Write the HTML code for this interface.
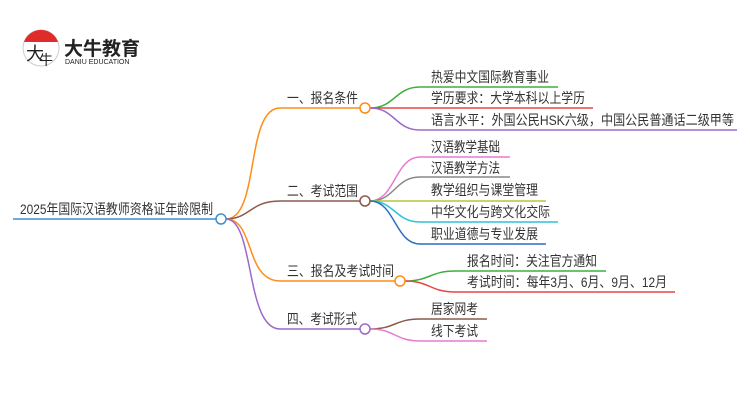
<!DOCTYPE html>
<html><head><meta charset="utf-8"><style>
body{margin:0;background:#fff;width:750px;height:410px;overflow:hidden}
svg text{font-family:"Liberation Sans","Noto Sans CJK SC",sans-serif;font-size:14px;fill:#333}
</style></head><body>
<svg width="750" height="410" viewBox="0 0 750 410">
<!-- logo -->
<circle cx="41" cy="48" r="18" fill="#fff" stroke="#ccc" stroke-width="1"/>
<path d="M24,42 A18,18 0 0 1 58,42 Z" fill="#e02b2b"/>
<text x="26" y="60" style="font-size:18px;fill:#222">大</text>
<text x="39" y="65" style="font-size:14px;fill:#222">牛</text>
<text x="64" y="55" style="font-size:19px;font-weight:bold;fill:#222">大牛教育</text>
<text x="65" y="64" style="font-size:7px;fill:#222">DANIU EDUCATION</text>
<g fill="none" stroke-width="1.5">
<line x1="13" y1="219" x2="216" y2="219" stroke="#3d8fd1"/>
<path d="M226,219 C260,219 245,108 280,108 L360,108" stroke="#ff8c1a"/>
<path d="M226,219 C250,219 250,201 280,201 L360,201" stroke="#8b5a4a"/>
<path d="M226,219 C255,219 245,281 280,281 L395,281" stroke="#ff8c1a"/>
<path d="M226,219 C255,219 245,329 280,329 L360,329" stroke="#9b6ac9"/>
<path d="M370,108 C395,108 395,87 420,87 L558,87" stroke="#3bb03b"/>
<path d="M370,108 L593,108" stroke="#e84545"/>
<path d="M370,108 C395,108 395,130 420,130 L737,130" stroke="#9b6ac9"/>
<path d="M370,201 C395,201 395,157 420,157 L510,157" stroke="#e87ad0"/>
<path d="M370,201 C395,201 395,177 420,177 L510,177" stroke="#888"/>
<path d="M370,201 L546,201" stroke="#b8c43a"/>
<path d="M370,201 C395,201 395,222 420,222 L558,222" stroke="#2ec4d8"/>
<path d="M370,201 C395,201 395,244 420,244 L546,244" stroke="#2b6fc0"/>
<path d="M405,281 C430,281 430,271 455,271 L606,271" stroke="#3bb03b"/>
<path d="M405,281 C430,281 430,292 455,292 L675,292" stroke="#e84545"/>
<path d="M370,329 C395,329 395,319 420,319 L487,319" stroke="#8b5a4a"/>
<path d="M370,329 C395,329 395,341 420,341 L487,341" stroke="#e87ad0"/>
</g>
<g fill="#fff" stroke-width="1.5">
<circle cx="221" cy="219" r="5" stroke="#3d8fd1"/>
<circle cx="365" cy="108" r="5" stroke="#ff8c1a"/>
<circle cx="365" cy="201" r="5" stroke="#8b5a4a"/>
<circle cx="400" cy="281" r="5" stroke="#ff8c1a"/>
<circle cx="365" cy="329" r="5" stroke="#9b6ac9"/>
</g>
<g lengthAdjust="spacingAndGlyphs">
<text x="20" y="214" textLength="193" lengthAdjust="spacingAndGlyphs">2025年国际汉语教师资格证年龄限制</text>
<text x="287" y="103" textLength="71" lengthAdjust="spacingAndGlyphs">一、报名条件</text>
<text x="287" y="196" textLength="71" lengthAdjust="spacingAndGlyphs">二、考试范围</text>
<text x="287" y="276" textLength="107" lengthAdjust="spacingAndGlyphs">三、报名及考试时间</text>
<text x="287" y="324" textLength="70" lengthAdjust="spacingAndGlyphs">四、考试形式</text>
<text x="431" y="82" textLength="118" lengthAdjust="spacingAndGlyphs">热爱中文国际教育事业</text>
<text x="431" y="103" textLength="154" lengthAdjust="spacingAndGlyphs">学历要求：大学本科以上学历</text>
<text x="431" y="125" textLength="303" lengthAdjust="spacingAndGlyphs">语言水平：外国公民HSK六级，中国公民普通话二级甲等</text>
<text x="431" y="152" textLength="69" lengthAdjust="spacingAndGlyphs">汉语教学基础</text>
<text x="431" y="173" textLength="69" lengthAdjust="spacingAndGlyphs">汉语教学方法</text>
<text x="431" y="195" textLength="107" lengthAdjust="spacingAndGlyphs">教学组织与课堂管理</text>
<text x="431" y="217" textLength="119" lengthAdjust="spacingAndGlyphs">中华文化与跨文化交际</text>
<text x="431" y="239" textLength="107" lengthAdjust="spacingAndGlyphs">职业道德与专业发展</text>
<text x="467" y="266" textLength="130" lengthAdjust="spacingAndGlyphs">报名时间：关注官方通知</text>
<text x="467" y="287" textLength="200" lengthAdjust="spacingAndGlyphs">考试时间：每年3月、6月、9月、12月</text>
<text x="431" y="314" textLength="47" lengthAdjust="spacingAndGlyphs">居家网考</text>
<text x="431" y="336" textLength="47" lengthAdjust="spacingAndGlyphs">线下考试</text>
</g>
</svg>
</body></html>
